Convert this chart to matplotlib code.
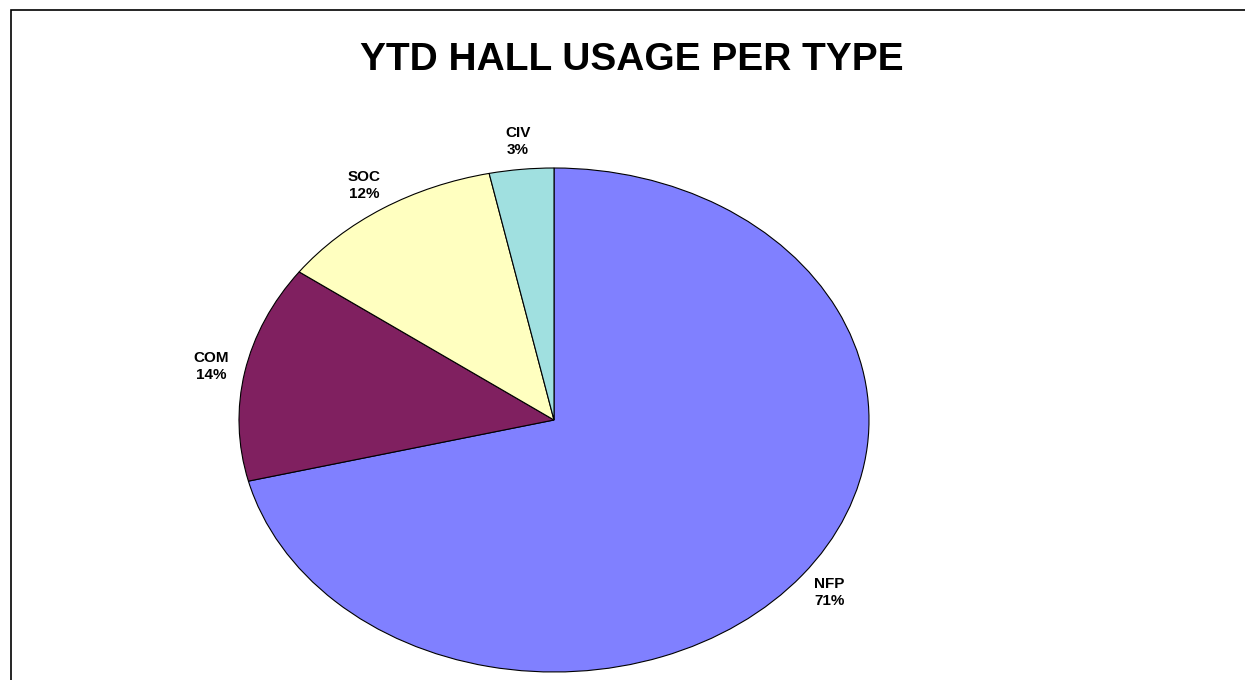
import matplotlib.pyplot as plt
from matplotlib.patches import Rectangle

plt.rcParams['font.family'] = ['Liberation Sans', 'DejaVu Sans']

types = ["NFP", "COM", "SOC", "CIV"]
usage = [71.1, 13.9, 11.7, 3.3]
pct_labels = ["71%", "14%", "12%", "3%"]
colors = ["#8080FF", "#802060", "#FFFFC0", "#A0E0E0"]

fig = plt.figure(figsize=(12.45, 6.8), dpi=100)

# chart frame, cut off at right and bottom like the source
fig.patches.append(Rectangle((10.5 / 1245, -0.1), 1.2, (680 - 10.5) / 680 + 0.1,
                             transform=fig.transFigure, fill=False,
                             edgecolor="black", linewidth=1.2))

ax = fig.add_axes([239 / 1245, 8 / 680, 630 / 1245, 504 / 680])
labels = [t + "\n" + p for t, p in zip(types, pct_labels)]
ax.pie(usage, labels=labels, colors=colors, startangle=90, counterclock=False,
       labeldistance=1.11,
       wedgeprops=dict(edgecolor="black", linewidth=0.8),
       textprops=dict(ha="center", va="center", fontsize=11,
                      fontweight="bold", linespacing=1.25))
ax.set_aspect("auto")
ax.set_xlim(-1, 1)
ax.set_ylim(-1, 1)

fig.text(632 / 1245, 1 - 70 / 680, "YTD HALL USAGE PER TYPE", ha="center",
         va="baseline", fontsize=28, fontweight="bold")

fig.savefig("out.png", dpi=100)
